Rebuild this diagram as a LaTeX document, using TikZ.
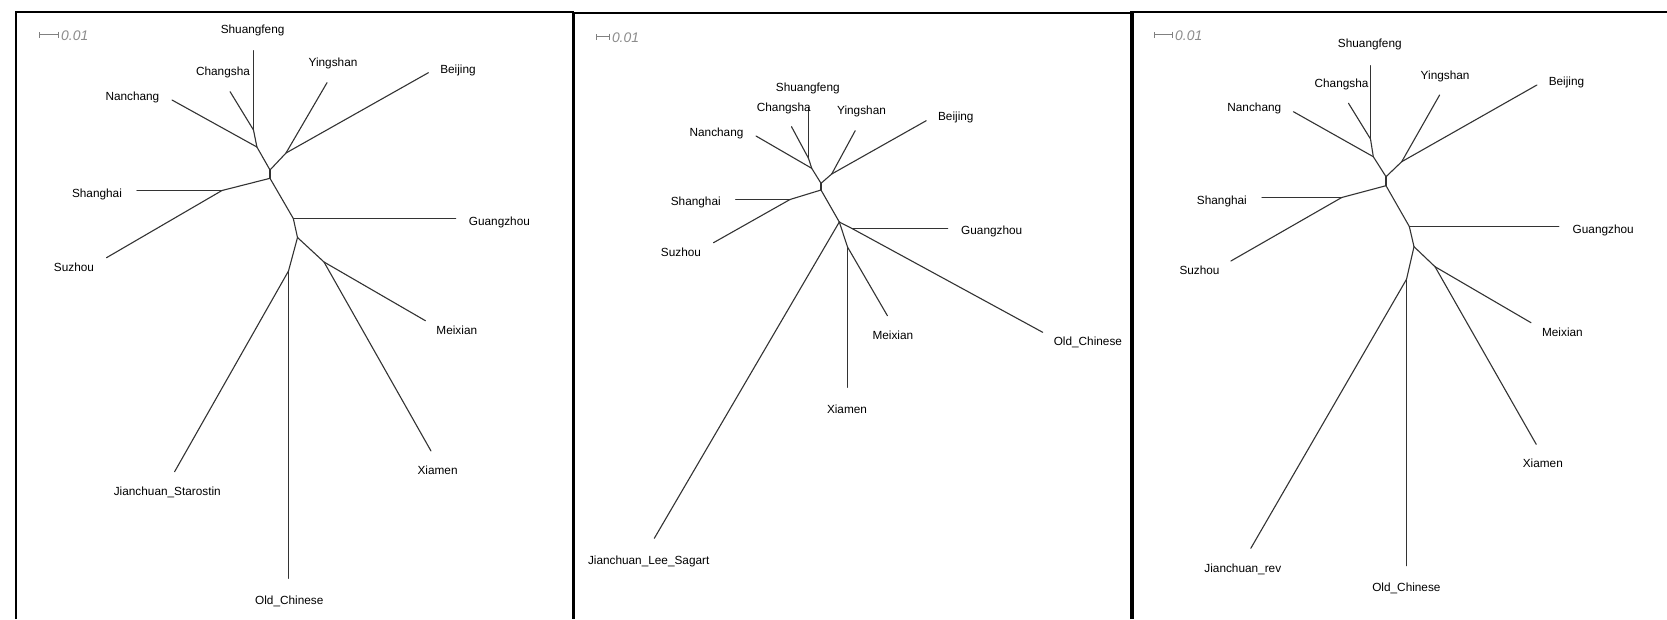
\documentclass[tikz,border=0pt]{standalone}
\usepackage{fontspec}
\setmainfont{Liberation Sans}
\usetikzlibrary{arrows.meta}
\newcommand\labfont{\fontsize{11.8}{13}\selectfont}
\newcommand\barfont{\fontsize{13.9}{15}\selectfont\itshape}
\tikzset{
  lab/.style={font=\labfont, inner sep=0pt, text height=8.4pt, text depth=0pt, anchor=center},
  edge/.style={line width=1.1pt, black!80, line cap=round, line join=round},
  frame/.style={line width=2pt, black},
  scalebar/.style={line width=1pt, black!50, {Bar[width=6pt]}-{Bar[width=6pt]}},
  scaletext/.style={font=\barfont, text=black!45, inner sep=0pt, anchor=west, text height=10pt, text depth=0pt}
}
\begin{document}
\begin{tikzpicture}[x=1pt,y=-1pt]
\useasboundingbox (0,0) rectangle (1667,619);
\fill[white] (0,0) rectangle (1667,619);

% ---------- frames ----------
\coordinate (f1a) at (15.9,619); \coordinate (f1b) at (15.9,11.7);
\coordinate (f1c) at (572.6,11.7); \coordinate (f1d) at (572.6,619);
\draw[frame] (f1a) -- (f1b) -- (f1c) -- (f1d);
\coordinate (f2a) at (573.5,619); \coordinate (f2b) at (573.5,13.3);
\coordinate (f2c) at (1132.5,13.3); \coordinate (f2d) at (1132.5,619);
\draw[frame] (f2a) -- (f2b) -- (f2c) -- (f2d);
\coordinate (f3a) at (1131,619); \coordinate (f3b) at (1131,11.7);
\coordinate (f3c) at (1667,11.7);
\draw[frame] (f3a) -- (f3b) -- (f3c);

% ---------- scale bars ----------
\coordinate (s1a) at (38.8,34.5); \coordinate (s1b) at (59.2,34.5);
\draw[scalebar] (s1a) -- (s1b);
\node[scaletext] (s1t) at (61,35) {0.01};
\coordinate (s2a) at (595.9,36.5); \coordinate (s2b) at (609.9,36.5);
\draw[scalebar] (s2a) -- (s2b);
\node[scaletext] (s2t) at (611.8,37) {0.01};
\coordinate (s3a) at (1153.8,34.5); \coordinate (s3b) at (1173,34.5);
\draw[scalebar] (s3a) -- (s3b);
\node[scaletext] (s3t) at (1175,35) {0.01};

% ---------- panel 1 ----------
\coordinate (aSf) at (253.5,50.7);   \coordinate (aA) at (253.5,130);
\coordinate (aCs) at (230.1,91.7); \coordinate (aB) at (256.9,147);
\coordinate (aNc) at (172,100);    \coordinate (aC) at (270,170);
\coordinate (aD) at (286,153);     \coordinate (aYs) at (327,82.7);
\coordinate (aBj) at (428.4,72.7); \coordinate (aE) at (270,178.3);
\coordinate (aF) at (222,190.5);   \coordinate (aSh) at (136.9,190.5);
\coordinate (aSz) at (106.5,257.7);\coordinate (aG) at (293.3,218.5);
\coordinate (aGz) at (455.7,218.5);\coordinate (aH) at (297.5,237.5);
\coordinate (aI) at (324,262);     \coordinate (aMx) at (425.4,320.7);
\coordinate (aXm) at (431,451);    \coordinate (aJ) at (288.5,271);
\coordinate (aJc) at (174.6,471.7);\coordinate (aOc) at (288.5,578.3);
\draw[edge] (aSf) -- (aA);
\draw[edge] (aCs) -- (aA);
\draw[edge] (aA) -- (aB);
\draw[edge] (aNc) -- (aB);
\draw[edge] (aB) -- (aC);
\draw[edge] (aC) -- (aD);
\draw[edge] (aD) -- (aYs);
\draw[edge] (aD) -- (aBj);
\draw[edge] (aC) -- (aE);
\draw[edge] (aE) -- (aF);
\draw[edge] (aF) -- (aSh);
\draw[edge] (aF) -- (aSz);
\draw[edge] (aE) -- (aG);
\draw[edge] (aG) -- (aGz);
\draw[edge] (aG) -- (aH);
\draw[edge] (aH) -- (aI);
\draw[edge] (aI) -- (aMx);
\draw[edge] (aI) -- (aXm);
\draw[edge] (aH) -- (aJ);
\draw[edge] (aJ) -- (aJc);
\draw[edge] (aJ) -- (aOc);
\node[lab] (aLSf) at (252.6,29) {Shuangfeng};
\node[lab] (aLCs) at (223,71.7) {Changsha};
\node[lab] (aLYs) at (333,62.7) {Yingshan};
\node[lab] (aLBj) at (458,69) {Beijing};
\node[lab] (aLNc) at (132.4,96) {Nanchang};
\node[lab] (aLSh) at (97,193.3) {Shanghai};
\node[lab] (aLGz) at (499.4,221.7) {Guangzhou};
\node[lab] (aLSz) at (74,267.3) {Suzhou};
\node[lab] (aLMx) at (456.8,330) {Meixian};
\node[lab] (aLXm) at (437.6,470.7) {Xiamen};
\node[lab] (aLJc) at (167.3,490.8) {Jianchuan\_Starostin};
\node[lab] (aLOc) at (289.3,600) {Old\_Chinese};

% ---------- panel 2 ----------
\coordinate (bSf) at (808.5,107.5); \coordinate (bA) at (808.5,158.3);
\coordinate (bCs) at (791.5,126.7); \coordinate (bB) at (811.7,168.3);
\coordinate (bNc) at (756,136);     \coordinate (bC) at (821,183.3);
\coordinate (bD) at (831.7,174);    \coordinate (bYs) at (855.2,130.7);
\coordinate (bBj) at (926.2,120.7); \coordinate (bE) at (821,190);
\coordinate (bF) at (790,199.5);    \coordinate (bSh) at (735.7,199.5);
\coordinate (bSz) at (713.5,242.7); \coordinate (bG) at (839.3,222);
\coordinate (bJc) at (654.3,538.3); \coordinate (bI) at (847.5,247);
\coordinate (bXm) at (847.5,387.3); \coordinate (bMx) at (887.4,315.7);
\coordinate (bH) at (852,228.5);    \coordinate (bGz) at (947.7,228.5);
\coordinate (bOc) at (1042.7,332.3);
\draw[edge] (bSf) -- (bA);
\draw[edge] (bCs) -- (bA);
\draw[edge] (bA) -- (bB);
\draw[edge] (bNc) -- (bB);
\draw[edge] (bB) -- (bC);
\draw[edge] (bC) -- (bD);
\draw[edge] (bD) -- (bYs);
\draw[edge] (bD) -- (bBj);
\draw[edge] (bC) -- (bE);
\draw[edge] (bE) -- (bF);
\draw[edge] (bF) -- (bSh);
\draw[edge] (bF) -- (bSz);
\draw[edge] (bE) -- (bG);
\draw[edge] (bG) -- (bJc);
\draw[edge] (bG) -- (bI);
\draw[edge] (bI) -- (bXm);
\draw[edge] (bI) -- (bMx);
\draw[edge] (bG) -- (bH);
\draw[edge] (bH) -- (bGz);
\draw[edge] (bH) -- (bOc);
\node[lab] (bLSf) at (807.8,87.3) {Shuangfeng};
\node[lab] (bLCs) at (783.8,107.3) {Changsha};
\node[lab] (bLYs) at (861.5,110) {Yingshan};
\node[lab] (bLBj) at (955.8,116.7) {Beijing};
\node[lab] (bLNc) at (716.5,132.3) {Nanchang};
\node[lab] (bLSh) at (695.8,201.3) {Shanghai};
\node[lab] (bLGz) at (991.7,230.7) {Guangzhou};
\node[lab] (bLSz) at (681,252.3) {Suzhou};
\node[lab] (bLMx) at (892.9,335.7) {Meixian};
\node[lab] (bLOc) at (1087.9,341.3) {Old\_Chinese};
\node[lab] (bLXm) at (847,409.3) {Xiamen};
\node[lab] (bLJc) at (648.7,560.5) {Jianchuan\_Lee\_Sagart};

% ---------- panel 3 ----------
\coordinate (cSf) at (1370.5,65.7);  \coordinate (cA) at (1370.5,139);
\coordinate (cCs) at (1348.5,103.3); \coordinate (cB) at (1373.3,156.7);
\coordinate (cNc) at (1293.4,111.7); \coordinate (cC) at (1386,176.7);
\coordinate (cD) at (1401.7,161.7);  \coordinate (cYs) at (1439.6,95);
\coordinate (cBj) at (1536.9,85);    \coordinate (cE) at (1386,185.7);
\coordinate (cF) at (1341.7,197.5);  \coordinate (cSh) at (1262,197.5);
\coordinate (cSz) at (1230.9,261);   \coordinate (cG) at (1409.3,226.5);
\coordinate (cGz) at (1558.9,226.5); \coordinate (cH) at (1414,246.7);
\coordinate (cI) at (1435,266.7);    \coordinate (cMx) at (1531,322.7);
\coordinate (cXm) at (1536.2,444.3); \coordinate (cJ) at (1406.5,279.3);
\coordinate (cJc) at (1250.8,548.3); \coordinate (cOc) at (1406.5,565.7);
\draw[edge] (cSf) -- (cA);
\draw[edge] (cCs) -- (cA);
\draw[edge] (cA) -- (cB);
\draw[edge] (cNc) -- (cB);
\draw[edge] (cB) -- (cC);
\draw[edge] (cC) -- (cD);
\draw[edge] (cD) -- (cYs);
\draw[edge] (cD) -- (cBj);
\draw[edge] (cC) -- (cE);
\draw[edge] (cE) -- (cF);
\draw[edge] (cF) -- (cSh);
\draw[edge] (cF) -- (cSz);
\draw[edge] (cE) -- (cG);
\draw[edge] (cG) -- (cGz);
\draw[edge] (cG) -- (cH);
\draw[edge] (cH) -- (cI);
\draw[edge] (cI) -- (cMx);
\draw[edge] (cI) -- (cXm);
\draw[edge] (cH) -- (cJ);
\draw[edge] (cJ) -- (cJc);
\draw[edge] (cJ) -- (cOc);
\node[lab] (cLSf) at (1369.8,43.3) {Shuangfeng};
\node[lab] (cLCs) at (1341.5,83.3) {Changsha};
\node[lab] (cLYs) at (1445.1,75.7) {Yingshan};
\node[lab] (cLBj) at (1566.5,81.3) {Beijing};
\node[lab] (cLNc) at (1254.3,107.3) {Nanchang};
\node[lab] (cLSh) at (1221.9,200.3) {Shanghai};
\node[lab] (cLGz) at (1603.2,229) {Guangzhou};
\node[lab] (cLSz) at (1199.5,270.7) {Suzhou};
\node[lab] (cLMx) at (1562.4,332.3) {Meixian};
\node[lab] (cLXm) at (1542.8,463.7) {Xiamen};
\node[lab] (cLJc) at (1242.8,568.3) {Jianchuan\_rev};
\node[lab] (cLOc) at (1406.4,587.3) {Old\_Chinese};
\end{tikzpicture}
\end{document}
